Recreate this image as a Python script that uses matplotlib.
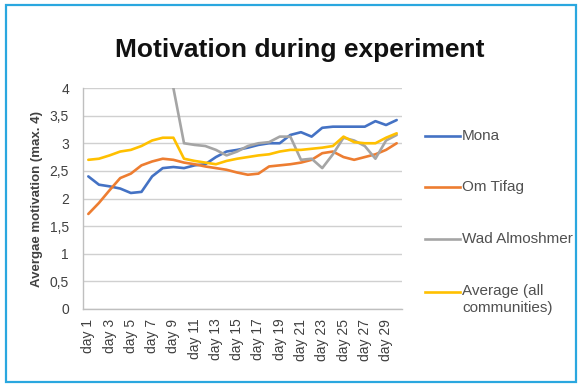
import numpy as np
import matplotlib
matplotlib.use("Agg")
import matplotlib.pyplot as plt
from matplotlib.patches import Rectangle
from matplotlib.lines import Line2D

# --- data -------------------------------------------------------------
days = list(range(1, 31))
day_labels = [f"day {d}" for d in days]

mona = [2.40, 2.25, 2.22, 2.18, 2.10, 2.12, 2.40, 2.55, 2.57, 2.55,
        2.60, 2.62, 2.75, 2.85, 2.88, 2.92, 2.97, 3.00, 3.00, 3.15,
        3.20, 3.12, 3.28, 3.30, 3.30, 3.30, 3.30, 3.40, 3.33, 3.42]

om_tifag = [1.72, 1.92, 2.15, 2.37, 2.45, 2.60, 2.67, 2.72, 2.70, 2.65,
            2.62, 2.58, 2.55, 2.52, 2.47, 2.43, 2.45, 2.58, 2.60, 2.62,
            2.65, 2.70, 2.82, 2.85, 2.75, 2.70, 2.75, 2.80, 2.88, 3.00]

wad_almoshmer = [np.nan] * 8 + [
    4.00, 3.00, 2.97, 2.95, 2.88, 2.78, 2.85, 2.95, 3.00, 3.02,
    3.12, 3.12, 2.70, 2.72, 2.55, 2.80, 3.10, 3.05, 2.95, 2.72,
    3.05, 3.15]

average = [2.70, 2.72, 2.78, 2.85, 2.88, 2.95, 3.05, 3.10, 3.10, 2.72,
           2.68, 2.65, 2.62, 2.68, 2.72, 2.75, 2.78, 2.80, 2.85, 2.88,
           2.88, 2.90, 2.92, 2.95, 3.12, 3.02, 3.00, 3.00, 3.10, 3.18]

series_names = ["Mona", "Om Tifag", "Wad Almoshmer", "Average (all\ncommunities)"]
series_values = [mona, om_tifag, wad_almoshmer, average]
series_colors = ["#4472C4", "#ED7D31", "#A5A5A5", "#FFC000"]

y_ticks = [0, 0.5, 1, 1.5, 2, 2.5, 3, 3.5, 4]

# --- figure -----------------------------------------------------------
plt.rcParams["font.family"] = ["Liberation Sans", "DejaVu Sans"]
W, H = 580, 385
fig = plt.figure(figsize=(W / 100, H / 100), dpi=100)
fig.patch.set_facecolor("white")

# outer frame
fig.add_artist(Rectangle((6 / W, 3 / H), 570 / W, 377 / H,
                         transform=fig.transFigure, fill=False,
                         edgecolor="#2AA7DF", linewidth=1.6))

ax = fig.add_axes([83 / W, 1 - 309 / H, (402 - 83) / W, (309 - 88) / H])

for name, vals, col in zip(series_names, series_values, series_colors):
    ax.plot(days, vals, color=col, linewidth=1.9, label=name,
            solid_joinstyle="round", solid_capstyle="round")

ax.set_xlim(0.5, 30.5)
ax.set_ylim(0, 4)
ax.set_yticks(y_ticks)
ax.set_yticklabels([f"{v:g}".replace(".", ",") for v in y_ticks],
                   fontsize=10, color="#404040")
ax.set_xticks(days[::2])
ax.set_xticklabels(day_labels[::2], rotation=90, fontsize=10, color="#404040")
ax.tick_params(axis="y", length=0, pad=10)
ax.tick_params(axis="x", length=0, pad=7)
ax.grid(axis="y", color="#D0D0D0", linewidth=1.0)
ax.set_axisbelow(True)
for s in ("top", "right"):
    ax.spines[s].set_visible(False)
for s in ("left", "bottom"):
    ax.spines[s].set_color("#BFBFBF")
    ax.spines[s].set_linewidth(1.0)

ax.set_ylabel("Avergae motivation (max. 4)", fontsize=9.5, fontweight="bold",
              color="#404040")
ax.yaxis.set_label_coords((43 - 83) / (402 - 83), 0.5)

fig.text(299.5 / W, 1 - 50 / H, "Motivation during experiment",
         ha="center", va="center", fontsize=19, fontweight="bold",
         color="#111111")

# legend: a short line sample and the series name beside it
legend_y = [136, 187, 239, 292]
for name, col, yy in zip(series_names, series_colors, legend_y):
    yf = 1 - yy / H
    fig.add_artist(Line2D([425 / W, 460 / W], [yf, yf], color=col,
                          linewidth=1.9, transform=fig.transFigure))
    if "\n" in name:
        fig.text(462 / W, yf + 8 / H, name, ha="left", va="top",
                 fontsize=11, color="#505050", linespacing=1.3)
    else:
        fig.text(462 / W, yf, name, ha="left", va="center",
                 fontsize=11, color="#505050")

fig.savefig("out.png", dpi=100, facecolor="white")
